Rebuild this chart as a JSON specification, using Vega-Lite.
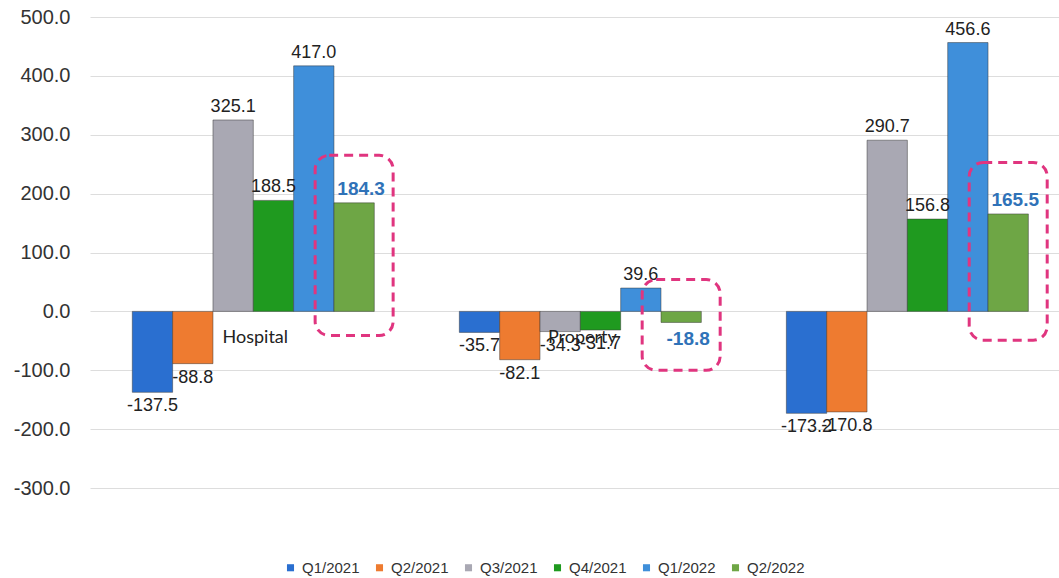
{
  "$schema": "https://vega.github.io/schema/vega-lite/v6.json",
  "autosize": "none",
  "padding": {"left": 90, "top": 17, "right": 0, "bottom": 90},
  "width": 969,
  "height": 471,
  "background": "white",
  "config": {
    "font": "Liberation Sans",
    "view": {"stroke": null},
    "locale": {
      "number": {"decimal": ".", "thousands": ",", "grouping": [3], "currency": ["$", ""], "minus": "-"}
    }
  },
  "datasets": {
    "bars": [
      {"category": "Hospital", "quarter": "Q1/2021", "value": -137.5},
      {"category": "Hospital", "quarter": "Q2/2021", "value": -88.8},
      {"category": "Hospital", "quarter": "Q3/2021", "value": 325.1},
      {"category": "Hospital", "quarter": "Q4/2021", "value": 188.5},
      {"category": "Hospital", "quarter": "Q1/2022", "value": 417.0},
      {"category": "Hospital", "quarter": "Q2/2022", "value": 184.3},
      {"category": "Property", "quarter": "Q1/2021", "value": -35.7},
      {"category": "Property", "quarter": "Q2/2021", "value": -82.1},
      {"category": "Property", "quarter": "Q3/2021", "value": -34.3},
      {"category": "Property", "quarter": "Q4/2021", "value": -31.7},
      {"category": "Property", "quarter": "Q1/2022", "value": 39.6},
      {"category": "Property", "quarter": "Q2/2022", "value": -18.8},
      {"category": "Total", "quarter": "Q1/2021", "value": -173.2},
      {"category": "Total", "quarter": "Q2/2021", "value": -170.8},
      {"category": "Total", "quarter": "Q3/2021", "value": 290.7},
      {"category": "Total", "quarter": "Q4/2021", "value": 156.8},
      {"category": "Total", "quarter": "Q1/2022", "value": 456.6},
      {"category": "Total", "quarter": "Q2/2022", "value": 165.5}
    ],
    "labels": [
      {"category": "Hospital"},
      {"category": "Property"}
    ],
    "boxes": [
      {"category": "Hospital", "quarter": "Q2/2022", "top": 265, "bottom": -41},
      {"category": "Property", "quarter": "Q2/2022", "top": 54, "bottom": -100},
      {"category": "Total", "quarter": "Q2/2022", "top": 253, "bottom": -49}
    ]
  },
  "layer": [
    {
      "data": {"name": "bars"},
      "mark": {"type": "bar", "stroke": "#333333", "strokeWidth": 0.8, "strokeOpacity": 0.6},
      "encoding": {
        "x": {
          "field": "category",
          "type": "nominal",
          "axis": null,
          "scale": {"domain": ["Hospital", "Property", "Total"], "paddingInner": 0.26, "paddingOuter": 0.1115, "align": 0.58}
        },
        "xOffset": {
          "field": "quarter",
          "type": "nominal",
          "scale": {"domain": ["Q1/2021", "Q2/2021", "Q3/2021", "Q4/2021", "Q1/2022", "Q2/2022"], "paddingInner": 0}
        },
        "y": {
          "field": "value",
          "type": "quantitative",
          "scale": {"domain": [-300, 500], "nice": false},
          "axis": {
            "title": null,
            "format": ".1f",
            "values": [-300, -200, -100, 0, 100, 200, 300, 400, 500],
            "domain": false,
            "ticks": false,
            "labelPadding": 20,
            "labelFontSize": 20,
            "labelColor": "#333333",
            "gridColor": "#dddddd",
            "gridWidth": 1
          }
        },
        "color": {
          "field": "quarter",
          "type": "nominal",
          "scale": {
            "domain": ["Q1/2021", "Q2/2021", "Q3/2021", "Q4/2021", "Q1/2022", "Q2/2022"],
            "range": ["#2a6fd0", "#ee7b30", "#a9a8b3", "#1f9a1f", "#3f8fda", "#6ea645"]
          },
          "legend": {
            "title": null,
            "orient": "none",
            "direction": "horizontal",
            "legendX": 193,
            "legendY": 543,
            "symbolType": "square",
            "symbolSize": 50,
            "symbolStrokeWidth": 0,
            "labelFontSize": 15,
            "labelColor": "#333333",
            "columnPadding": 12,
            "labelOffset": 4
          }
        }
      }
    },
    {
      "data": {"name": "bars"},
      "transform": [{"filter": "datum.value >= 0 && datum.quarter != 'Q2/2022'"}],
      "mark": {"type": "text", "baseline": "bottom", "dy": -4, "fontSize": 18, "color": "#222222"},
      "encoding": {
        "x": {"field": "category", "type": "nominal"},
        "xOffset": {"field": "quarter", "type": "nominal"},
        "y": {"field": "value", "type": "quantitative"},
        "text": {"field": "value", "type": "quantitative", "format": ".1f"}
      }
    },
    {
      "data": {"name": "bars"},
      "transform": [{"filter": "datum.value < 0 && datum.quarter != 'Q2/2022'"}],
      "mark": {"type": "text", "baseline": "top", "dy": 5, "fontSize": 18, "color": "#222222"},
      "encoding": {
        "x": {"field": "category", "type": "nominal"},
        "xOffset": {"field": "quarter", "type": "nominal"},
        "y": {"field": "value", "type": "quantitative"},
        "text": {"field": "value", "type": "quantitative", "format": ".1f"}
      }
    },
    {
      "data": {"name": "bars"},
      "transform": [{"filter": "datum.value >= 0 && datum.quarter == 'Q2/2022'"}],
      "mark": {"type": "text", "baseline": "bottom", "dy": -4, "dx": 7, "fontSize": 19, "fontWeight": "bold", "color": "#2f72b8"},
      "encoding": {
        "x": {"field": "category", "type": "nominal"},
        "xOffset": {"field": "quarter", "type": "nominal"},
        "y": {"field": "value", "type": "quantitative"},
        "text": {"field": "value", "type": "quantitative", "format": ".1f"}
      }
    },
    {
      "data": {"name": "bars"},
      "transform": [{"filter": "datum.value < 0 && datum.quarter == 'Q2/2022'"}],
      "mark": {"type": "text", "baseline": "top", "dy": 8, "dx": 7, "fontSize": 19, "fontWeight": "bold", "color": "#2f72b8"},
      "encoding": {
        "x": {"field": "category", "type": "nominal"},
        "xOffset": {"field": "quarter", "type": "nominal"},
        "y": {"field": "value", "type": "quantitative"},
        "text": {"field": "value", "type": "quantitative", "format": ".1f"}
      }
    },
    {
      "data": {"name": "labels"},
      "mark": {"type": "text", "baseline": "top", "dy": 18, "dx": 2, "fontSize": 18, "color": "#222222", "font": "Lato"},
      "encoding": {
        "x": {"field": "category", "type": "nominal"},
        "y": {"datum": 0, "type": "quantitative"},
        "text": {"field": "category"}
      }
    },
    {
      "data": {"name": "boxes"},
      "mark": {"type": "bar", "width": 78, "fillOpacity": 0, "stroke": "#e0357f", "strokeWidth": 3, "strokeDash": [9, 6], "cornerRadius": 14},
      "encoding": {
        "x": {"field": "category", "type": "nominal"},
        "xOffset": {"field": "quarter", "type": "nominal"},
        "y": {"field": "top", "type": "quantitative"},
        "y2": {"field": "bottom"}
      }
    }
  ]
}
